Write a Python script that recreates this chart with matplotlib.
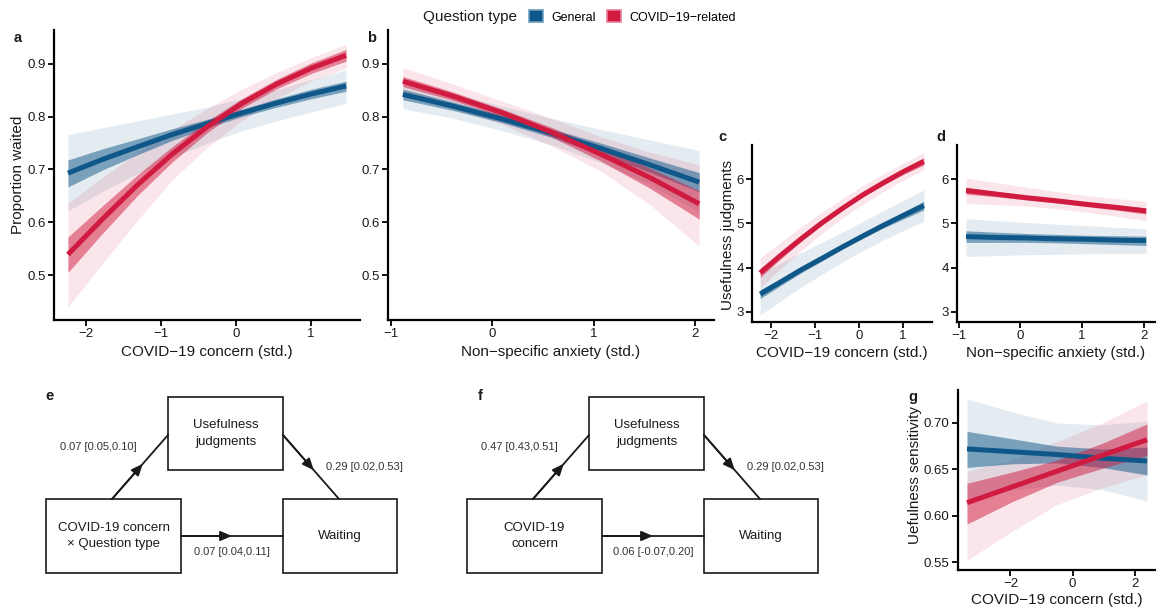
import matplotlib
matplotlib.use('Agg')
import matplotlib.pyplot as plt
from matplotlib.patches import Patch, Rectangle

plt.rcParams['font.family'] = ['Liberation Sans', 'DejaVu Sans']

BLUE = '#0f5788'
RED = '#d01a40'
TXT = '#1a1a1a'
W, H = 1156, 610

# ---- panel a: proportion waited vs COVID-19 concern
a_x = [-2.24, -1.78, -1.31, -0.85, -0.38, 0.08, 0.55, 1.01, 1.47]
a_gen_fit = [0.693, 0.719, 0.743, 0.766, 0.787, 0.807, 0.826, 0.843, 0.858]
a_gen_in_lo = [0.667, 0.699, 0.728, 0.755, 0.779, 0.800, 0.818, 0.834, 0.848]
a_gen_in_hi = [0.718, 0.739, 0.758, 0.777, 0.795, 0.814, 0.834, 0.852, 0.867]
a_gen_out_lo = [0.622, 0.658, 0.692, 0.723, 0.750, 0.773, 0.792, 0.809, 0.825]
a_gen_out_hi = [0.766, 0.779, 0.792, 0.805, 0.818, 0.834, 0.851, 0.870, 0.889]
a_cov_fit = [0.539, 0.606, 0.671, 0.729, 0.781, 0.825, 0.862, 0.892, 0.916]
a_cov_in_lo = [0.505, 0.579, 0.651, 0.714, 0.770, 0.816, 0.853, 0.882, 0.905]
a_cov_in_hi = [0.572, 0.631, 0.690, 0.743, 0.792, 0.834, 0.871, 0.902, 0.927]
a_cov_out_lo = [0.440, 0.522, 0.604, 0.680, 0.742, 0.792, 0.835, 0.868, 0.892]
a_cov_out_hi = [0.636, 0.685, 0.732, 0.775, 0.815, 0.852, 0.884, 0.912, 0.937]

# ---- panel b: proportion waited vs non-specific anxiety
b_x = [-0.88, -0.39, 0.09, 0.58, 1.07, 1.55, 2.04]
b_gen_fit = [0.842, 0.820, 0.796, 0.769, 0.740, 0.709, 0.676]
b_gen_in_lo = [0.832, 0.812, 0.789, 0.761, 0.729, 0.695, 0.658]
b_gen_in_hi = [0.852, 0.828, 0.803, 0.777, 0.750, 0.722, 0.694]
b_gen_out_lo = [0.815, 0.797, 0.774, 0.747, 0.713, 0.672, 0.620]
b_gen_out_hi = [0.866, 0.843, 0.820, 0.797, 0.776, 0.756, 0.736]
b_cov_fit = [0.867, 0.839, 0.808, 0.771, 0.729, 0.685, 0.635]
b_cov_in_lo = [0.857, 0.831, 0.800, 0.762, 0.716, 0.665, 0.606]
b_cov_in_hi = [0.876, 0.847, 0.815, 0.780, 0.741, 0.703, 0.660]
b_cov_out_lo = [0.838, 0.815, 0.786, 0.745, 0.697, 0.634, 0.555]
b_cov_out_hi = [0.893, 0.862, 0.830, 0.797, 0.762, 0.733, 0.709]

# ---- panel c: usefulness judgments vs COVID-19 concern
c_x = [-2.24, -1.78, -1.31, -0.85, -0.38, 0.09, 0.55, 1.02, 1.48]
c_gen_fit = [3.40, 3.67, 3.95, 4.20, 4.46, 4.71, 4.95, 5.18, 5.40]
c_gen_in_lo = [3.30, 3.59, 3.88, 4.14, 4.41, 4.66, 4.89, 5.10, 5.30]
c_gen_in_hi = [3.50, 3.75, 4.02, 4.26, 4.51, 4.76, 5.01, 5.26, 5.50]
c_gen_out_lo = [2.93, 3.24, 3.56, 3.84, 4.12, 4.38, 4.62, 4.84, 5.04]
c_gen_out_hi = [3.87, 4.10, 4.34, 4.56, 4.80, 5.04, 5.28, 5.52, 5.76]
c_cov_fit = [3.88, 4.27, 4.65, 5.00, 5.33, 5.64, 5.91, 6.17, 6.40]
c_cov_in_lo = [3.78, 4.19, 4.59, 4.95, 5.29, 5.60, 5.86, 6.11, 6.32]
c_cov_in_hi = [3.98, 4.35, 4.71, 5.05, 5.37, 5.68, 5.96, 6.23, 6.48]
c_cov_out_lo = [3.54, 3.97, 4.38, 4.76, 5.11, 5.43, 5.71, 5.98, 6.21]
c_cov_out_hi = [4.22, 4.57, 4.92, 5.24, 5.55, 5.85, 6.11, 6.36, 6.59]

# ---- panel d: usefulness judgments vs non-specific anxiety
d_x = [-0.88, -0.39, 0.09, 0.58, 1.07, 1.55, 2.04]
d_gen_fit = [4.70, 4.68, 4.67, 4.65, 4.64, 4.62, 4.61]
d_gen_in_lo = [4.57, 4.57, 4.57, 4.56, 4.54, 4.52, 4.50]
d_gen_in_hi = [4.83, 4.80, 4.77, 4.75, 4.73, 4.72, 4.71]
d_gen_out_lo = [4.25, 4.27, 4.29, 4.30, 4.31, 4.32, 4.32]
d_gen_out_hi = [5.10, 5.06, 5.02, 4.98, 4.95, 4.91, 4.88]
d_cov_fit = [5.74, 5.66, 5.58, 5.51, 5.43, 5.36, 5.28]
d_cov_in_lo = [5.66, 5.60, 5.53, 5.46, 5.38, 5.30, 5.21]
d_cov_in_hi = [5.82, 5.72, 5.63, 5.56, 5.48, 5.42, 5.35]
d_cov_out_lo = [5.45, 5.42, 5.39, 5.33, 5.25, 5.16, 5.06]
d_cov_out_hi = [6.02, 5.92, 5.82, 5.72, 5.63, 5.56, 5.50]

# ---- panel g: usefulness sensitivity vs COVID-19 concern
g_x = [-3.4, -1.95, -0.5, 0.95, 2.4]
g_gen_fit = [0.672, 0.669, 0.666, 0.662, 0.659]
g_gen_in_lo = [0.652, 0.656, 0.657, 0.652, 0.644]
g_gen_in_hi = [0.691, 0.683, 0.675, 0.672, 0.674]
g_gen_out_lo = [0.618, 0.628, 0.633, 0.628, 0.616]
g_gen_out_hi = [0.726, 0.712, 0.700, 0.698, 0.702]
g_cov_fit = [0.614, 0.631, 0.648, 0.665, 0.682]
g_cov_in_lo = [0.591, 0.615, 0.636, 0.651, 0.665]
g_cov_in_hi = [0.635, 0.647, 0.660, 0.678, 0.699]
g_cov_out_lo = [0.552, 0.583, 0.612, 0.630, 0.644]
g_cov_out_hi = [0.648, 0.660, 0.680, 0.700, 0.724]

# mediation paths
e_paths = ['0.07 [0.05,0.10]', '0.29 [0.02,0.53]', '0.07 [0.04,0.11]']
f_paths = ['0.47 [0.43,0.51]', '0.29 [0.02,0.53]', '0.06 [-0.07,0.20]']


def px_axes(l, t, r, b):
    return fig.add_axes([l / W, 1 - b / H, (r - l) / W, (b - t) / H])


def style(ax, xticks, yticks, xlim, ylim, fmt=None):
    for s in ('top', 'right'):
        ax.spines[s].set_visible(False)
    for s in ('left', 'bottom'):
        ax.spines[s].set_linewidth(1.6)
    ax.tick_params(width=1.3, length=4, labelsize=9.5, colors='black', labelcolor=TXT, pad=2)
    ax.set_xticks(xticks)
    ax.set_yticks(yticks)
    if fmt:
        ax.set_yticklabels([fmt % v for v in yticks])
    ax.set_xlim(*xlim)
    ax.set_ylim(*ylim)


def fits(ax, x, gen, cov):
    for s, c in ((gen, BLUE), (cov, RED)):
        ax.fill_between(x, s[3], s[4], color=c, alpha=0.11, lw=0)
    for s, c in ((gen, BLUE), (cov, RED)):
        ax.fill_between(x, s[1], s[2], color=c, alpha=0.5, lw=0)
    for s, c in ((gen, BLUE), (cov, RED)):
        ax.plot(x, s[0], color=c, lw=3.6, solid_capstyle='butt', solid_joinstyle='round')


def xlab(ax, text, y):
    ax.set_xlabel(text, fontsize=11, color=TXT)
    ax.xaxis.label.set_va('center')
    ax.xaxis.set_label_coords(0.5, y)


def ylab(ax, text, x, y=0.5):
    ax.set_ylabel(text, fontsize=11, color=TXT)
    ax.yaxis.label.set_va('center')
    ax.yaxis.set_label_coords(x, y)


fig = plt.figure(figsize=(W / 100, H / 100), dpi=100)

ax_a = px_axes(54, 30, 360, 320)
fits(ax_a, a_x,
     (a_gen_fit, a_gen_in_lo, a_gen_in_hi, a_gen_out_lo, a_gen_out_hi),
     (a_cov_fit, a_cov_in_lo, a_cov_in_hi, a_cov_out_lo, a_cov_out_hi))
style(ax_a, [-2, -1, 0, 1], [0.5, 0.6, 0.7, 0.8, 0.9], (-2.426, 1.656), (0.415, 0.964))
xlab(ax_a, 'COVID\u221219 concern (std.)', -0.11)
ylab(ax_a, 'Proportion waited', -0.117)

ax_b = px_axes(388, 30, 714, 320)
fits(ax_b, b_x,
     (b_gen_fit, b_gen_in_lo, b_gen_in_hi, b_gen_out_lo, b_gen_out_hi),
     (b_cov_fit, b_cov_in_lo, b_cov_in_hi, b_cov_out_lo, b_cov_out_hi))
style(ax_b, [-1, 0, 1, 2], [0.5, 0.6, 0.7, 0.8, 0.9], (-1.026, 2.186), (0.415, 0.964))
xlab(ax_b, 'Non\u2212specific anxiety (std.)', -0.11)

ax_c = px_axes(752, 145, 932, 322)
fits(ax_c, c_x,
     (c_gen_fit, c_gen_in_lo, c_gen_in_hi, c_gen_out_lo, c_gen_out_hi),
     (c_cov_fit, c_cov_in_lo, c_cov_in_hi, c_cov_out_lo, c_cov_out_hi))
style(ax_c, [-2, -1, 0, 1], [3, 4, 5, 6], (-2.426, 1.666), (2.77, 6.77))
xlab(ax_c, 'COVID\u221219 concern (std.)', -0.175)
ylab(ax_c, 'Usefulness judgments', -0.134, 0.49)

ax_d = px_axes(957, 145, 1155, 322)
fits(ax_d, d_x,
     (d_gen_fit, d_gen_in_lo, d_gen_in_hi, d_gen_out_lo, d_gen_out_hi),
     (d_cov_fit, d_cov_in_lo, d_cov_in_hi, d_cov_out_lo, d_cov_out_hi))
style(ax_d, [-1, 0, 1, 2], [3, 4, 5, 6], (-1.026, 2.186), (2.77, 6.77))
xlab(ax_d, 'Non\u2212specific anxiety (std.)', -0.175)

ax_g = px_axes(958, 390, 1156, 570)
fits(ax_g, g_x,
     (g_gen_fit, g_gen_in_lo, g_gen_in_hi, g_gen_out_lo, g_gen_out_hi),
     (g_cov_fit, g_cov_in_lo, g_cov_in_hi, g_cov_out_lo, g_cov_out_hi))
style(ax_g, [-2, 0, 2], [0.55, 0.60, 0.65, 0.70], (-3.69, 2.69), (0.5414, 0.7356), fmt='%.2f')
xlab(ax_g, 'COVID\u221219 concern (std.)', -0.167)
ylab(ax_g, 'Uefulness sensitivity', -0.215, 0.53)

# panel letters
for lab, x, y in (('a', 18, 38), ('b', 372, 38), ('c', 722, 137), ('d', 941, 137),
                  ('e', 50, 396), ('f', 480, 396), ('g', 913, 397)):
    fig.text(x / W, 1 - y / H, lab, fontsize=10.5, fontweight='bold', ha='center', va='center', color=TXT)

# legend
fig.text(423 / W, 1 - 17 / H, 'Question type', fontsize=11, va='center', color=TXT)
handles = [Patch(facecolor=BLUE, edgecolor='#6f9cbd', lw=1.2, label='General'),
           Patch(facecolor=RED, edgecolor='#e68098', lw=1.2, label='COVID\u221219\u2212related')]
fig.legend(handles=handles, ncol=2, loc='center left', bbox_to_anchor=(529 / W, 1 - 17 / H),
           frameon=False, fontsize=9, handlelength=1.1, handleheight=1.1, handletextpad=0.7,
           columnspacing=0.9, borderpad=0, borderaxespad=0)

# mediation diagrams drawn in pixel space
axd = fig.add_axes([0, 0, 1, 1], zorder=-1)
axd.set_xlim(0, W)
axd.set_ylim(H, 0)
axd.axis('off')


def box(x0, y0, x1, y1, text):
    axd.add_patch(Rectangle((x0, y0), x1 - x0, y1 - y0, fill=False, ec=TXT, lw=1.2))
    axd.text((x0 + x1) / 2, (y0 + y1) / 2, text, ha='center', va='center',
             fontsize=9.5, color=TXT, linespacing=1.5)


def path(p0, p1, frac=0.55):
    tip = (p0[0] + (p1[0] - p0[0]) * frac, p0[1] + (p1[1] - p0[1]) * frac)
    axd.plot([p0[0], p1[0]], [p0[1], p1[1]], color=TXT, lw=1.3)
    axd.annotate('', xy=tip, xytext=p0,
                 arrowprops=dict(arrowstyle='-|>,head_length=0.7,head_width=0.3',
                                 color=TXT, lw=1.3, shrinkA=0, shrinkB=0))


def diagram(dx, left_text, labels):
    box(168 + dx, 397, 283 + dx, 470, 'Usefulness\njudgments')
    box(46 + dx, 499, 181 + dx, 573, left_text)
    box(283 + dx, 499, 397 + dx, 573, 'Waiting')
    path((112 + dx, 499), (168 + dx, 435))
    path((283 + dx, 435), (339 + dx, 499))
    path((181 + dx, 536), (283 + dx, 536), 0.5)
    axd.text(98 + dx, 447, labels[0], ha='center', va='center', fontsize=8, color='#333333')
    axd.text(364 + dx, 467, labels[1], ha='center', va='center', fontsize=8, color='#333333')
    axd.text(232 + dx, 552, labels[2], ha='center', va='center', fontsize=8, color='#333333')


diagram(0, 'COVID-19 concern\n\u00d7 Question type', e_paths)
diagram(421, 'COVID-19\nconcern', f_paths)

fig.savefig('out.png', dpi=100)
